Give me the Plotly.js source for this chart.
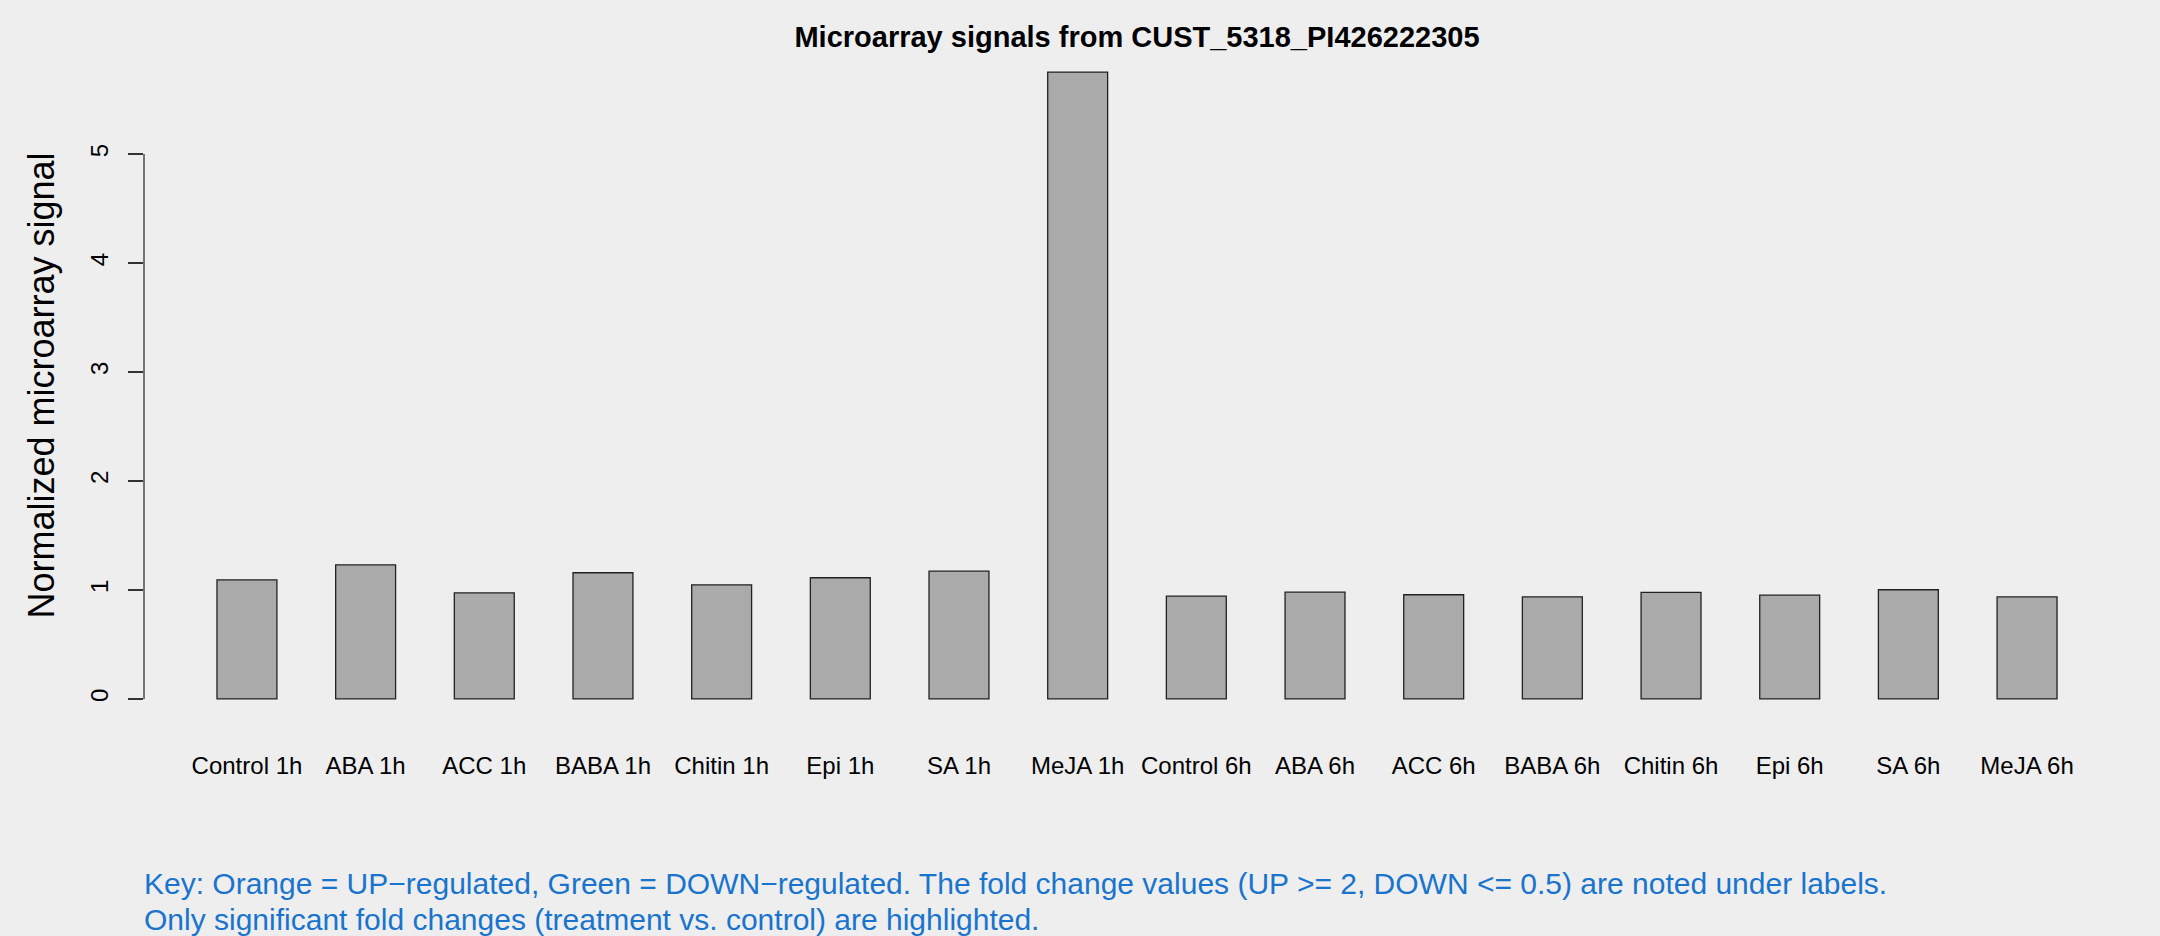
<!DOCTYPE html>
<html>
<head>
<meta charset="utf-8">
<script src="https://cdn.plot.ly/plotly-3.0.1.min.js"></script>
<style>html,body{margin:0;padding:0;background:#EEEEEE;}</style>
</head>
<body>
<div id="chart" style="width:2160px;height:936px;"></div>
<script>
var categories = ["Control 1h","ABA 1h","ACC 1h","BABA 1h","Chitin 1h","Epi 1h","SA 1h","MeJA 1h",
                  "Control 6h","ABA 6h","ACC 6h","BABA 6h","Chitin 6h","Epi 6h","SA 6h","MeJA 6h"];
var signals = [1.093, 1.231, 0.974, 1.158, 1.047, 1.112, 1.172, 5.753,
               0.943, 0.980, 0.956, 0.937, 0.977, 0.952, 1.002, 0.937];
var yTicks = [0, 1, 2, 3, 4, 5];
var titleText = "Microarray signals from CUST_5318_PI426222305";
var yTitle = "Normalized microarray signal";
var keyLines = ["Key: Orange = UP\u2212regulated, Green = DOWN\u2212regulated. The fold change values (UP >= 2, DOWN <= 0.5) are noted under labels.",
                "Only significant fold changes (treatment vs. control) are highlighted."];

var FONT = "Liberation Sans, Arial, Helvetica, sans-serif";
var ymax = Math.max.apply(null, signals);
var ext = 0.04 * ymax;

var trace = {
  type: "bar",
  x: categories,
  y: signals,
  marker: {color: "#AAAAAA", line: {color: "#222222", width: 1.3}},
  hoverinfo: "x+y"
};

var layout = {
  width: 2160, height: 936,
  paper_bgcolor: "#EEEEEE", plot_bgcolor: "#EEEEEE",
  margin: {l: 144, r: 30, t: 47, b: 212, pad: 0},
  showlegend: false,
  bargap: 0.495,
  font: {family: FONT, color: "#000000"},
  title: {
    text: "<b>" + titleText + "</b>",
    font: {family: FONT, size: 29, color: "#000000"},
    x: 0.5, xref: "paper", xanchor: "center",
    y: 1 - 37/936, yref: "container", yanchor: "middle"
  },
  xaxis: {
    type: "category",
    range: [-0.8675, categories.length - 1 + 0.8675],
    showline: false, showgrid: false, zeroline: false,
    ticks: "",
    tickfont: {family: FONT, size: 24, color: "#000000"},
    ticklabelstandoff: 25,
    fixedrange: true
  },
  yaxis: {
    range: [-ext, ymax + ext],
    showline: false, showgrid: false, zeroline: false,
    tickmode: "array", tickvals: yTicks, ticktext: yTicks.map(String),
    ticks: "outside", ticklen: 15, tickwidth: 1.3, tickcolor: "#333333",
    tickangle: -90,
    tickfont: {family: FONT, size: 24, color: "#000000"},
    ticklabelstandoff: 10,
    title: {text: yTitle, font: {family: FONT, size: 36, color: "#000000"}, standoff: 20},
    fixedrange: true
  },
  shapes: [{
    type: "line", xref: "paper", yref: "y",
    x0: 0, x1: 0, y0: yTicks[0], y1: yTicks[yTicks.length - 1],
    line: {color: "#333333", width: 1.3}
  }],
  annotations: [
    {text: keyLines[0], xref: "paper", yref: "paper", x: 0, y: (723.9 - 883.5) / 677.4,
     xanchor: "left", yanchor: "middle", showarrow: false, xshift: -2,
     font: {family: FONT, size: 30, color: "#1874CD"}},
    {text: keyLines[1], xref: "paper", yref: "paper", x: 0, y: (723.9 - 920.0) / 677.4,
     xanchor: "left", yanchor: "middle", showarrow: false, xshift: -2,
     font: {family: FONT, size: 30, color: "#1874CD"}}
  ]
};

Plotly.newPlot("chart", [trace], layout, {displayModeBar: false, staticPlot: true});
</script>
</body>
</html>
